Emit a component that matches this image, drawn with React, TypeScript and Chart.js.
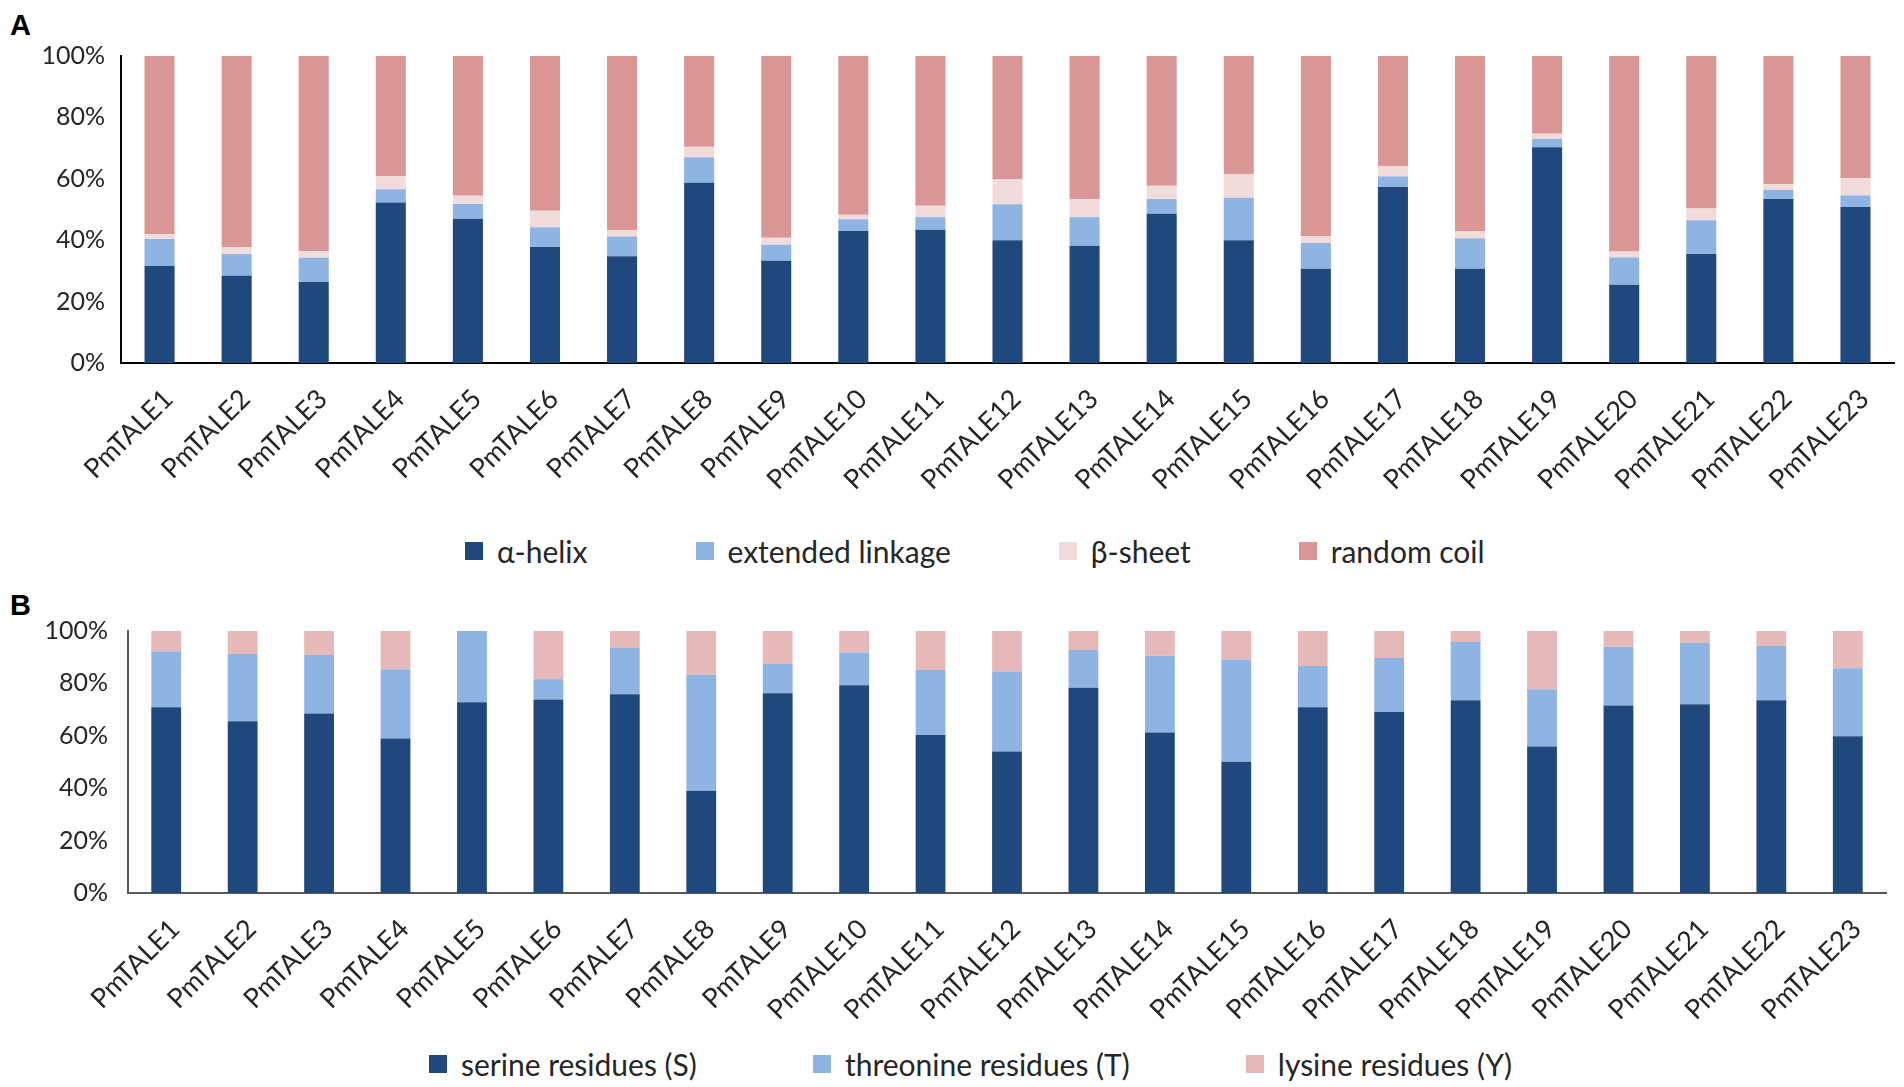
import { useEffect, useRef } from "react"
import Chart from "chart.js/auto"

const genes = [
  "PmTALE1", "PmTALE2", "PmTALE3", "PmTALE4", "PmTALE5", "PmTALE6", "PmTALE7", "PmTALE8",
  "PmTALE9", "PmTALE10", "PmTALE11", "PmTALE12", "PmTALE13", "PmTALE14", "PmTALE15", "PmTALE16",
  "PmTALE17", "PmTALE18", "PmTALE19", "PmTALE20", "PmTALE21", "PmTALE22", "PmTALE23",
]

// panel A: secondary structure (% of residues)
const alphaHelix = [31.6, 28.4, 26.4, 52.3, 47.0, 37.8, 34.8, 58.7, 33.3, 43.0, 43.4, 40.0, 38.2, 48.6, 40.0, 30.7, 57.3, 30.7, 70.3, 25.5, 35.5, 53.4, 50.8]
const extendedLinkage = [8.8, 7.1, 7.9, 4.3, 4.8, 6.4, 6.4, 8.3, 5.2, 3.8, 4.1, 11.7, 9.3, 4.8, 13.8, 8.4, 3.5, 9.9, 2.7, 8.9, 11.0, 3.0, 3.8]
const betaSheet = [1.6, 2.2, 2.1, 4.3, 2.7, 5.4, 2.1, 3.4, 2.3, 1.5, 3.7, 8.1, 5.8, 4.3, 7.8, 2.2, 3.4, 2.4, 1.7, 1.9, 3.8, 1.8, 5.7]
const randomCoil = [58.0, 62.3, 63.6, 39.1, 45.5, 50.4, 56.7, 29.6, 59.2, 51.7, 48.8, 40.2, 46.7, 42.3, 38.4, 58.7, 35.8, 57.0, 25.3, 63.7, 49.7, 41.8, 39.7]

// panel B: phosphorylation sites (% of sites)
const serine = [70.9, 65.6, 68.5, 59.0, 72.8, 73.9, 75.9, 39.0, 76.2, 79.3, 60.3, 54.0, 78.3, 61.3, 50.1, 70.9, 69.1, 73.6, 55.9, 71.6, 72.0, 73.6, 59.8]
const threonine = [21.4, 25.6, 22.3, 26.4, 27.2, 7.7, 17.6, 44.3, 11.2, 12.5, 24.8, 30.5, 14.5, 29.2, 38.9, 15.7, 20.6, 22.2, 21.9, 22.4, 23.5, 20.7, 26.0]
const lysine = [7.7, 8.8, 9.2, 14.6, 0, 18.4, 6.5, 16.7, 12.6, 8.2, 14.9, 15.5, 7.2, 9.5, 11.0, 13.4, 10.3, 4.2, 22.2, 6.0, 4.5, 5.7, 14.2]

const percentTicks = [0, 20, 40, 60, 80, 100]

const NAVY = "#1F497D"
const LIGHT_BLUE = "#8EB4E3"

type Series = { label: string; data: number[]; color: string }

interface PanelProps {
  letter: string
  top: number
  height: number
  series: Series[]
  pad: { top: number; right: number }
  yWidth: number
  xHeight: number
  tickPad: number
  axisColor: string
  legendTop: number
  legendLeft: number
  legendGap: number
}

function StackedPanel(p: PanelProps) {
  const canvasRef = useRef<HTMLCanvasElement>(null)
  const chartRef = useRef<Chart | null>(null)

  useEffect(() => {
    if (!canvasRef.current) return
    if (chartRef.current) chartRef.current.destroy()

    const fontFamily = "Lato, 'Open Sans', sans-serif"

    chartRef.current = new Chart(canvasRef.current, {
      type: "bar",
      data: {
        labels: genes,
        datasets: p.series.map((s) => ({
          label: s.label,
          data: s.data,
          backgroundColor: s.color,
          barPercentage: 0.39,
          categoryPercentage: 1,
        })),
      },
      options: {
        animation: false,
        responsive: true,
        maintainAspectRatio: false,
        layout: { padding: { top: p.pad.top, right: p.pad.right, bottom: 0, left: 0 } },
        plugins: {
          legend: { display: false },
          tooltip: { enabled: false },
        },
        scales: {
          x: {
            stacked: true,
            grid: { display: false, drawTicks: false },
            border: { display: true, color: p.axisColor, width: 2 },
            ticks: {
              autoSkip: false,
              minRotation: 45,
              maxRotation: 45,
              padding: 20,
              labelOffset: 9,
              color: "#262626",
              font: { family: fontFamily, size: 27 },
            },
            afterFit: (s: any) => {
              s.height = p.xHeight
            },
          },
          y: {
            stacked: true,
            min: 0,
            max: 100,
            grid: { display: false, drawTicks: false },
            border: { display: true, color: p.axisColor, width: 2 },
            ticks: {
              padding: p.tickPad,
              color: "#262626",
              font: { family: fontFamily, size: 25 },
              callback: (v: any) => v + "%",
            },
            afterBuildTicks: (s: any) => {
              s.ticks = percentTicks.map((v) => ({ value: v }))
            },
            afterFit: (s: any) => {
              s.width = p.yWidth
            },
          },
        },
      },
    })

    return () => {
      if (chartRef.current) {
        chartRef.current.destroy()
        chartRef.current = null
      }
    }
  }, [p])

  return (
    <>
      <div
        style={{
          position: "absolute",
          left: 10,
          top: p.top + (p.letter === "A" ? 11 : 2),
          font: "bold 29px 'Liberation Sans', Arial, sans-serif",
          lineHeight: 1,
          color: "#000",
        }}
      >
        {p.letter}
      </div>
      <div style={{ position: "absolute", left: 0, top: p.top, width: 1904, height: p.height }}>
        <canvas ref={canvasRef} />
      </div>
      <div
        style={{
          position: "absolute",
          left: p.legendLeft,
          top: p.legendTop,
          height: 36,
          display: "flex",
          alignItems: "center",
          gap: p.legendGap,
          font: "30px Lato, 'Noto Sans', sans-serif",
          color: "#262626",
          whiteSpace: "nowrap",
        }}
      >
        {p.series.map((s) => (
          <div key={s.label} style={{ display: "flex", alignItems: "center" }}>
            <span style={{ width: 18, height: 18, background: s.color, marginRight: 14, display: "inline-block" }} />
            <span>{s.label}</span>
          </div>
        ))}
      </div>
    </>
  )
}

const panelA: PanelProps = {
  letter: "A",
  top: 0,
  height: 500,
  series: [
    { label: "α-helix", data: alphaHelix, color: NAVY },
    { label: "extended linkage", data: extendedLinkage, color: LIGHT_BLUE },
    { label: "β-sheet", data: betaSheet, color: "#F2DCDB" },
    { label: "random coil", data: randomCoil, color: "#D99694" },
  ],
  pad: { top: 56, right: 10 },
  yWidth: 121,
  xHeight: 137,
  tickPad: 16,
  axisColor: "#000000",
  legendTop: 533,
  legendLeft: 465,
  legendGap: 108,
}

const panelB: PanelProps = {
  letter: "B",
  top: 589,
  height: 441,
  series: [
    { label: "serine residues (S)", data: serine, color: NAVY },
    { label: "threonine residues (T)", data: threonine, color: LIGHT_BLUE },
    { label: "lysine residues (Y)", data: lysine, color: "#E6B9B8" },
  ],
  pad: { top: 42, right: 18 },
  yWidth: 128,
  xHeight: 137,
  tickPad: 20,
  axisColor: "#595959",
  legendTop: 1046,
  legendLeft: 429,
  legendGap: 116,
}

export default function App() {
  return (
    <div style={{ position: "absolute", left: 0, top: 0, width: 1904, height: 1087, background: "#fff" }}>
      <StackedPanel {...panelA} />
      <StackedPanel {...panelB} />
    </div>
  )
}
